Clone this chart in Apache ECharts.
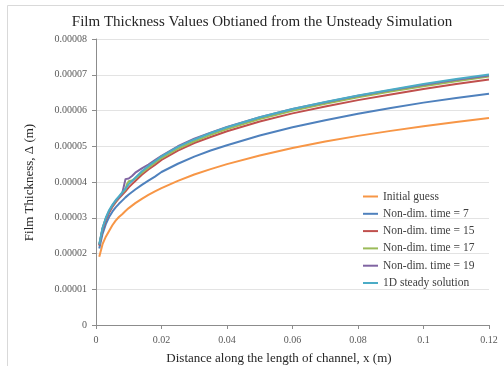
<!DOCTYPE html>
<html>
<head>
<meta charset="utf-8">
<script src="https://cdn.jsdelivr.net/npm/echarts@6/dist/echarts.min.js"></script>
<style>html,body{margin:0;padding:0;background:#fff;}#c{width:504px;height:366px;}</style>
</head>
<body>
<div id="c"></div>
<script>
// Distance along channel (m)
const xPos = [0.001,0.002,0.003,0.004,0.005,0.006,0.007,0.008,0.009,0.0095,0.01,0.011,0.012,0.014,0.016,0.018,0.02,0.025,0.03,0.035,0.04,0.05,0.06,0.07,0.08,0.09,0.1,0.11,0.12];

// Film thickness (m)
const initialGuess = [1.91e-5,2.26e-5,2.47e-5,2.63e-5,2.79e-5,2.92e-5,3.02e-5,3.10e-5,3.19e-5,3.23e-5,3.27e-5,3.34e-5,3.41e-5,3.53e-5,3.64e-5,3.74e-5,3.83e-5,4.03e-5,4.21e-5,4.36e-5,4.50e-5,4.74e-5,4.95e-5,5.13e-5,5.29e-5,5.43e-5,5.56e-5,5.68e-5,5.79e-5];
const time7 = [2.14e-5,2.55e-5,2.82e-5,3.02e-5,3.17e-5,3.29e-5,3.39e-5,3.48e-5,3.57e-5,3.61e-5,3.65e-5,3.72e-5,3.79e-5,3.92e-5,4.04e-5,4.15e-5,4.28e-5,4.51e-5,4.71e-5,4.88e-5,5.03e-5,5.30e-5,5.53e-5,5.73e-5,5.91e-5,6.07e-5,6.22e-5,6.35e-5,6.47e-5];
const time15 = [2.22e-5,2.66e-5,2.94e-5,3.14e-5,3.30e-5,3.43e-5,3.54e-5,3.64e-5,3.74e-5,3.79e-5,3.85e-5,3.94e-5,4.03e-5,4.20e-5,4.35e-5,4.48e-5,4.62e-5,4.88e-5,5.09e-5,5.26e-5,5.42e-5,5.69e-5,5.92e-5,6.11e-5,6.29e-5,6.45e-5,6.60e-5,6.74e-5,6.87e-5];
const time17 = [2.24e-5,2.70e-5,2.98e-5,3.18e-5,3.33e-5,3.46e-5,3.57e-5,3.68e-5,3.80e-5,3.95e-5,4.02e-5,4.04e-5,4.10e-5,4.26e-5,4.40e-5,4.54e-5,4.67e-5,4.93e-5,5.14e-5,5.32e-5,5.48e-5,5.76e-5,5.99e-5,6.19e-5,6.37e-5,6.53e-5,6.68e-5,6.82e-5,6.95e-5];
const time19 = [2.24e-5,2.70e-5,2.98e-5,3.18e-5,3.34e-5,3.47e-5,3.57e-5,3.68e-5,4.08e-5,4.10e-5,4.10e-5,4.17e-5,4.26e-5,4.38e-5,4.49e-5,4.61e-5,4.73e-5,5.00e-5,5.21e-5,5.38e-5,5.54e-5,5.81e-5,6.04e-5,6.23e-5,6.41e-5,6.57e-5,6.72e-5,6.86e-5,6.98e-5];
const steady1D = [2.26e-5,2.72e-5,3.00e-5,3.21e-5,3.36e-5,3.49e-5,3.60e-5,3.71e-5,3.81e-5,3.86e-5,3.94e-5,4.03e-5,4.12e-5,4.30e-5,4.45e-5,4.58e-5,4.72e-5,4.98e-5,5.19e-5,5.37e-5,5.53e-5,5.81e-5,6.04e-5,6.24e-5,6.42e-5,6.58e-5,6.74e-5,6.88e-5,7.01e-5];

const seriesNames = ['Initial guess','Non-dim. time = 7','Non-dim. time = 15','Non-dim. time = 17','Non-dim. time = 19','1D steady solution'];
const seriesValues = [initialGuess, time7, time15, time17, time19, steady1D];
const colors = ['#F79646','#4F81BD','#C0504D','#9BBB59','#8064A2','#4BACC6'];
const drawOrder = [0,1,2,3,5,4];

const FONT = "'Liberation Serif','Times New Roman',serif";
const chart = echarts.init(document.getElementById('c'), null, {renderer:'canvas'});

const series = drawOrder.map(i => ({
  name: seriesNames[i],
  type: 'line',
  data: xPos.map((x, k) => [x, seriesValues[i][k]]),
  symbol: 'none',
  smooth: false,
  lineStyle: {color: colors[i], width: 2, join: 'round'},
  itemStyle: {color: colors[i]},
  z: 2 + i
}));

chart.setOption({
  animation: false,
  backgroundColor: '#fff',
  color: colors,
  grid: {left: 96, top: 39, width: 393, height: 286, containLabel: false},
  xAxis: {
    type: 'value', min: 0, max: 0.12, interval: 0.02,
    axisLine: {show: true, onZero: false, lineStyle: {color: '#8c8c8c', width: 1}},
    axisTick: {show: true, length: 4, lineStyle: {color: '#8c8c8c'}},
    splitLine: {show: false},
    axisLabel: {fontFamily: FONT, fontSize: 10, color: '#595959', margin: 10,
      formatter: v => String(parseFloat(v.toFixed(2)))}
  },
  yAxis: {
    type: 'value', min: 0, max: 0.00008, interval: 0.00001,
    axisLine: {show: true, lineStyle: {color: '#8c8c8c', width: 1}},
    axisTick: {show: true, length: 4, lineStyle: {color: '#8c8c8c'}},
    splitLine: {show: true, lineStyle: {color: '#e3e3e3', width: 1}},
    axisLabel: {fontFamily: FONT, fontSize: 10, color: '#595959', margin: 9,
      formatter: v => v === 0 ? '0' : v.toFixed(5)}
  },
  legend: {
    orient: 'vertical', left: 363, top: 190.5, padding: 0,
    icon: 'rect', itemWidth: 15, itemHeight: 2, itemGap: 5.3,
    data: seriesNames,
    textStyle: {fontFamily: FONT, fontSize: 11.5, color: '#404040', lineHeight: 12}
  },
  graphic: [
    {type: 'rect', silent: true, z: -10, shape: {x: 7.5, y: 5.5, width: 600, height: 400},
      style: {fill: 'none', stroke: '#d9d9d9', lineWidth: 1}},
    {type: 'text', x: 262, y: 22, style: {text: 'Film Thickness Values Obtianed from the Unsteady Simulation',
      font: '15px ' + FONT, fill: '#262626', textAlign: 'center', textVerticalAlign: 'middle'}},
    {type: 'text', x: 279, y: 359, style: {text: 'Distance along the length of channel, x (m)',
      font: '13px ' + FONT, fill: '#262626', textAlign: 'center', textVerticalAlign: 'middle'}},
    {type: 'text', x: 30, y: 182.5, rotation: Math.PI / 2, style: {text: 'Film Thickness, \u0394 (m)',
      font: '13px ' + FONT, fill: '#262626', textAlign: 'center', textVerticalAlign: 'middle'}}
  ],
  series: series
});
</script>
</body>
</html>
